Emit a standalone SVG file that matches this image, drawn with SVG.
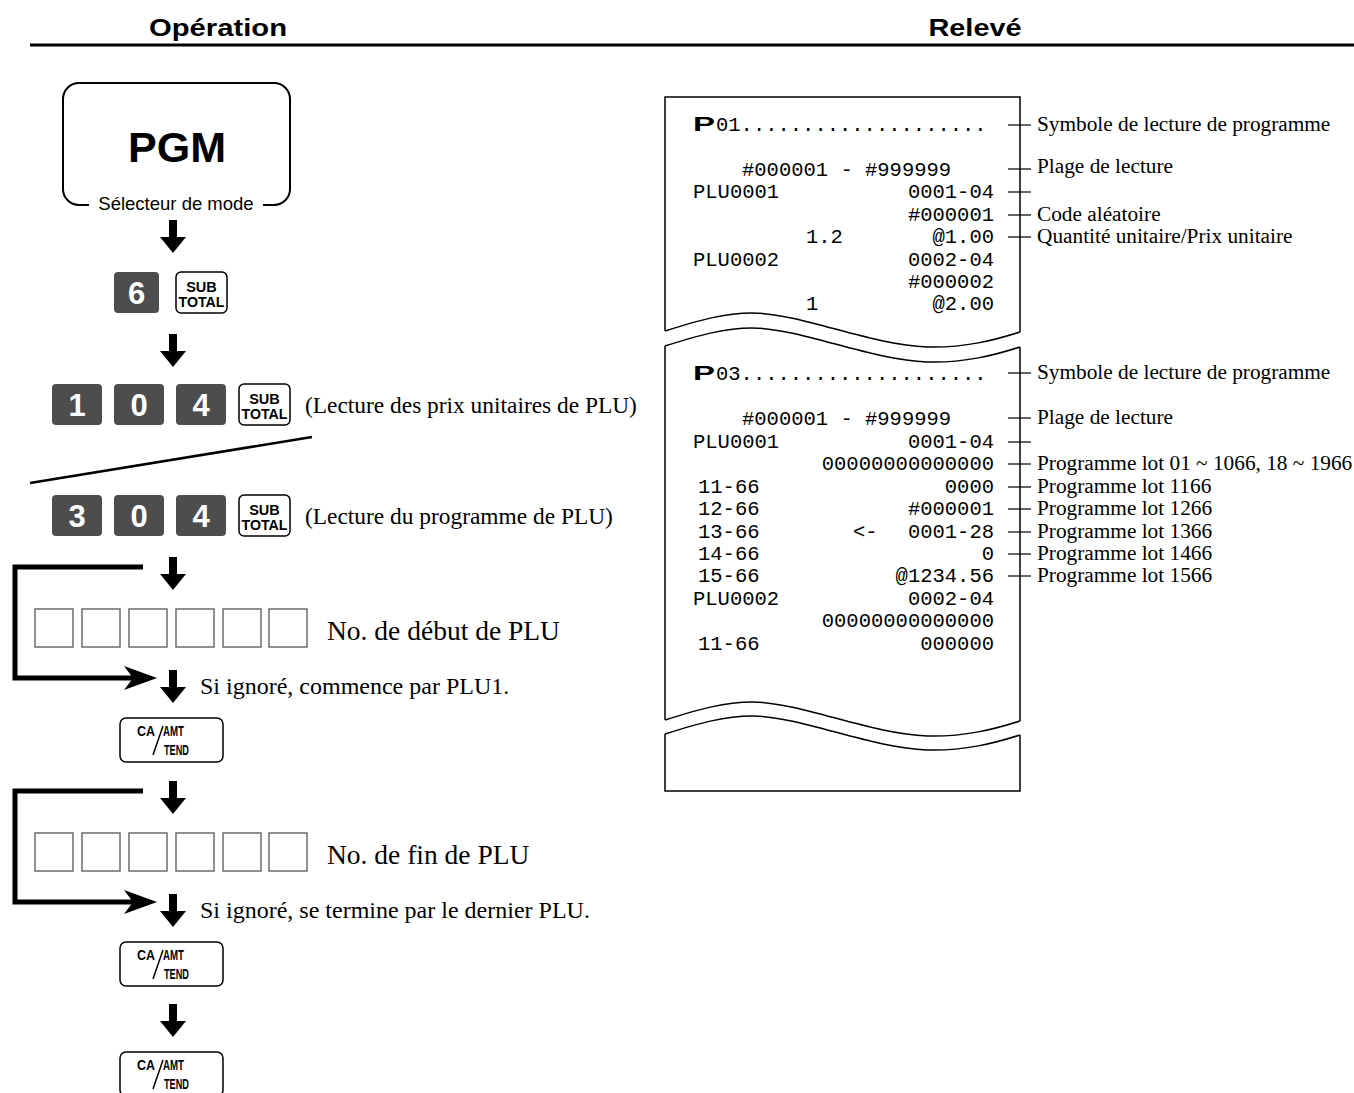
<svg xmlns="http://www.w3.org/2000/svg" xmlns:xlink="http://www.w3.org/1999/xlink" width="1354" height="1093" viewBox="0 0 1354 1093">
<style>
.hd{font-family:"Liberation Sans",Arial,sans-serif;font-weight:bold;font-size:24px;fill:#000}
.key{fill:#4d4d4d}
.kt{font-family:"Liberation Sans",Arial,sans-serif;font-weight:bold;font-size:31px;fill:#fff;text-anchor:middle}
.wk{fill:#fff;stroke:#000;stroke-width:1.5}
.st{font-family:"Liberation Sans",Arial,sans-serif;font-weight:bold;font-size:14.5px;fill:#000;text-anchor:middle}
.ct{font-family:"Liberation Sans",Arial,sans-serif;font-weight:bold;font-size:14px;fill:#000}
.ser{font-family:"Liberation Serif","Times New Roman",serif;font-size:23.4px;fill:#000}
.lab{font-family:"Liberation Serif","Times New Roman",serif;font-size:21.3px;fill:#000}
.mono{font-family:"Liberation Mono","Courier New",monospace;font-size:20.5px;fill:#000}
.r{text-anchor:end}
.box{fill:#fff;stroke:#555;stroke-width:1.3}
.ln{fill:none;stroke:#000;stroke-width:1.5}
.loop{fill:none;stroke:#000;stroke-width:5}
.psym{font-family:"Liberation Sans",Arial,sans-serif;font-weight:bold;font-size:20px}
</style>
<defs>
<path id="arr" d="M-4,0 H4 V17 H13 L0,33 L-13,17 H-4 Z" fill="#000"/>
<g id="subtotal">
<rect class="wk" x="0" y="0" width="51" height="41" rx="5"/>
<text class="st" x="25.5" y="20">SUB</text>
<text class="st" x="25.5" y="35" textLength="46" lengthAdjust="spacingAndGlyphs">TOTAL</text>
</g>
<g id="ca">
<rect class="wk" x="0" y="0" width="103" height="44" rx="6"/>
<text class="ct" x="17" y="18" textLength="18" lengthAdjust="spacingAndGlyphs">CA</text>
<line x1="33" y1="37" x2="43" y2="8" stroke="#000" stroke-width="1.5"/>
<text class="ct" x="43" y="18" textLength="21" lengthAdjust="spacingAndGlyphs">AMT</text>
<text class="ct" x="44" y="37" textLength="25" lengthAdjust="spacingAndGlyphs">TEND</text>
</g>
<g id="boxes">
<rect class="box" x="35" y="0" width="38" height="38"/>
<rect class="box" x="82" y="0" width="38" height="38"/>
<rect class="box" x="129" y="0" width="38" height="38"/>
<rect class="box" x="176" y="0" width="38" height="38"/>
<rect class="box" x="223" y="0" width="38" height="38"/>
<rect class="box" x="269" y="0" width="38" height="38"/>
</g>
</defs>

<g id="header">
<text class="hd" x="218" y="36" text-anchor="middle" textLength="138" lengthAdjust="spacingAndGlyphs">Opération</text>
<text class="hd" x="975" y="36" text-anchor="middle" textLength="93" lengthAdjust="spacingAndGlyphs">Relevé</text>
<line x1="30" y1="45" x2="1354" y2="45" stroke="#000" stroke-width="3"/>
</g>

<g id="connectors">
<use xlink:href="#arr" x="173" y="220"/>
<use xlink:href="#arr" x="173" y="334"/>
<use xlink:href="#arr" x="173" y="557"/>
<use xlink:href="#arr" x="173" y="670"/>
<use xlink:href="#arr" x="173" y="781"/>
<use xlink:href="#arr" x="173" y="894"/>
<use xlink:href="#arr" x="173" y="1004"/>
<line x1="30" y1="483" x2="312" y2="437" stroke="#000" stroke-width="2.5"/>
<path class="loop" d="M143,567 H15 V678 H135"/>
<path d="M157,678 L124,666 L133,678 L124,690 Z" fill="#000"/>
<path class="loop" d="M143,791 H15 V902 H135"/>
<path d="M157,902 L124,890 L133,902 L124,914 Z" fill="#000"/>
</g>

<g id="pgm">
<path d="M89,205 H79 A16,16 0 0 1 63,189 V99 A16,16 0 0 1 79,83 H274 A16,16 0 0 1 290,99 V189 A16,16 0 0 1 274,205 H263" fill="none" stroke="#000" stroke-width="2"/>
<text x="177" y="162" text-anchor="middle" style="font-family:'Liberation Sans',Arial,sans-serif;font-weight:bold;font-size:43px">PGM</text>
<text x="176" y="210" text-anchor="middle" style="font-family:'Liberation Sans',Arial,sans-serif;font-size:18.5px">Sélecteur de mode</text>
</g>

<g id="keys-6">
<rect class="key" x="114" y="272" width="45" height="41" rx="4"/>
<text class="kt" x="136.5" y="304">6</text>
<use xlink:href="#subtotal" x="176" y="272"/>
</g>

<g id="keys-104">
<rect class="key" x="52" y="384" width="50" height="41" rx="4"/>
<text class="kt" x="77" y="416">1</text>
<rect class="key" x="114" y="384" width="50" height="41" rx="4"/>
<text class="kt" x="139" y="416">0</text>
<rect class="key" x="176" y="384" width="50" height="41" rx="4"/>
<text class="kt" x="201" y="416">4</text>
<use xlink:href="#subtotal" x="239" y="384"/>
<text class="ser" x="305" y="413">(Lecture des prix unitaires de PLU)</text>
</g>

<g id="keys-304">
<rect class="key" x="52" y="495" width="50" height="41" rx="4"/>
<text class="kt" x="77" y="527">3</text>
<rect class="key" x="114" y="495" width="50" height="41" rx="4"/>
<text class="kt" x="139" y="527">0</text>
<rect class="key" x="176" y="495" width="50" height="41" rx="4"/>
<text class="kt" x="201" y="527">4</text>
<use xlink:href="#subtotal" x="239" y="495"/>
<text class="ser" x="305" y="524">(Lecture du programme de PLU)</text>
</g>

<g id="start-plu">
<use xlink:href="#boxes" x="0" y="609"/>
<text class="ser" x="327" y="640" style="font-size:27.5px">No. de début de PLU</text>
<text class="ser" x="200" y="694" style="font-size:24px">Si ignoré, commence par PLU1.</text>
</g>
<g id="ca1"><use xlink:href="#ca" x="120" y="718"/></g>

<g id="end-plu">
<use xlink:href="#boxes" x="0" y="833"/>
<text class="ser" x="327" y="864" style="font-size:27.5px">No. de fin de PLU</text>
<text class="ser" x="200" y="918" style="font-size:24px">Si ignoré, se termine par le dernier PLU.</text>
</g>
<g id="ca2"><use xlink:href="#ca" x="120" y="942"/></g>
<g id="ca3"><use xlink:href="#ca" x="120" y="1052"/></g>

<g id="receipt">
<path class="ln" d="M665,331 V97 H1020 V332"/>
<path class="ln" d="M665,331 C700,320 725,313 752,313 C800,313 870,345 927,347 C965,348 995,340 1020,332"/>
<path class="ln" d="M665,346 C700,335 725,328 752,328 C800,328 870,360 927,362 C965,363 995,355 1020,347"/>
<path class="ln" d="M665,346 V720"/>
<path class="ln" d="M1020,347 V721"/>
<path class="ln" d="M665,720 C700,709 725,702 752,702 C800,702 870,734 927,736 C965,737 995,729 1020,721"/>
<path class="ln" d="M665,734 C700,723 725,716 752,716 C800,716 870,748 927,750 C965,751 995,743 1020,735"/>
<path class="ln" d="M665,734 V791 H1020 V735"/>

<text class="psym" transform="translate(693,131) scale(1.65,1)">P</text>
<text class="mono" x="716" y="131">01....................</text>
<text class="mono" x="742" y="176">#000001 - #999999</text>
<text class="mono" x="693" y="198">PLU0001</text>
<text class="mono r" x="994" y="198">0001-04</text>
<text class="mono r" x="994" y="221">#000001</text>
<text class="mono" x="806" y="243">1.2</text>
<text class="mono r" x="994" y="243">@1.00</text>
<text class="mono" x="693" y="266">PLU0002</text>
<text class="mono r" x="994" y="266">0002-04</text>
<text class="mono r" x="994" y="288">#000002</text>
<text class="mono" x="806" y="310">1</text>
<text class="mono r" x="994" y="310">@2.00</text>

<text class="psym" transform="translate(693,380) scale(1.65,1)">P</text>
<text class="mono" x="716" y="380">03....................</text>
<text class="mono" x="742" y="425">#000001 - #999999</text>
<text class="mono" x="693" y="448">PLU0001</text>
<text class="mono r" x="994" y="448">0001-04</text>
<text class="mono r" x="994" y="470">00000000000000</text>
<text class="mono" x="698" y="493">11-66</text>
<text class="mono r" x="994" y="493">0000</text>
<text class="mono" x="698" y="515">12-66</text>
<text class="mono r" x="994" y="515">#000001</text>
<text class="mono" x="698" y="538">13-66</text>
<text class="mono" x="853" y="538">&lt;-</text>
<text class="mono r" x="994" y="538">0001-28</text>
<text class="mono" x="698" y="560">14-66</text>
<text class="mono r" x="994" y="560">0</text>
<text class="mono" x="698" y="582">15-66</text>
<text class="mono r" x="994" y="582">@1234.56</text>
<text class="mono" x="693" y="605">PLU0002</text>
<text class="mono r" x="994" y="605">0002-04</text>
<text class="mono r" x="994" y="627">00000000000000</text>
<text class="mono" x="698" y="650">11-66</text>
<text class="mono r" x="994" y="650">000000</text>
</g>

<g id="labels">
<g stroke="#000" stroke-width="1.2">
<line x1="1008" y1="125" x2="1031" y2="125"/>
<line x1="1008" y1="169" x2="1031" y2="169"/>
<line x1="1008" y1="192" x2="1031" y2="192"/>
<line x1="1008" y1="215" x2="1031" y2="215"/>
<line x1="1008" y1="237" x2="1031" y2="237"/>
<line x1="1008" y1="373" x2="1031" y2="373"/>
<line x1="1008" y1="418" x2="1031" y2="418"/>
<line x1="1008" y1="442" x2="1031" y2="442"/>
<line x1="1008" y1="464" x2="1031" y2="464"/>
<line x1="1008" y1="487" x2="1031" y2="487"/>
<line x1="1008" y1="509" x2="1031" y2="509"/>
<line x1="1008" y1="532" x2="1031" y2="532"/>
<line x1="1008" y1="554" x2="1031" y2="554"/>
<line x1="1008" y1="576" x2="1031" y2="576"/>
</g>
<text class="lab" x="1037" y="131">Symbole de lecture de programme</text>
<text class="lab" x="1037" y="173">Plage de lecture</text>
<text class="lab" x="1037" y="221">Code aléatoire</text>
<text class="lab" x="1037" y="243">Quantité unitaire/Prix unitaire</text>
<text class="lab" x="1037" y="379">Symbole de lecture de programme</text>
<text class="lab" x="1037" y="424">Plage de lecture</text>
<text class="lab" x="1037" y="470">Programme lot 01 ~ 1066, 18 ~ 1966</text>
<text class="lab" x="1037" y="493">Programme lot 1166</text>
<text class="lab" x="1037" y="515">Programme lot 1266</text>
<text class="lab" x="1037" y="538">Programme lot 1366</text>
<text class="lab" x="1037" y="560">Programme lot 1466</text>
<text class="lab" x="1037" y="582">Programme lot 1566</text>
</g>
</svg>
